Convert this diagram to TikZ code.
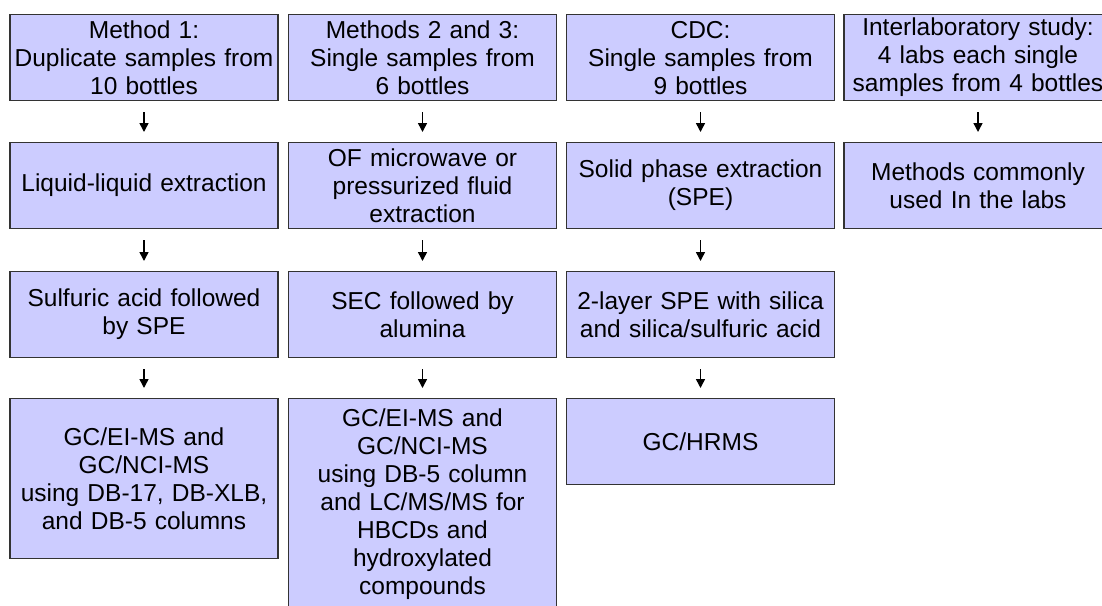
\documentclass[tikz,border=0pt]{standalone}
\usepackage{fontspec}
\setmainfont{Liberation Sans}
\usetikzlibrary{positioning,arrows.meta}
\definecolor{boxfill}{RGB}{204,204,255}

\begin{document}
\begin{tikzpicture}[x=1pt,y=-1pt,
                       proc node/.style={rectangle,fill=boxfill,draw=black!80,line width=1.2pt,
                                         anchor=north,minimum width=268pt,text width=268pt,
                                         align=center,inner sep=0pt,minimum height=86pt,
                                         font=\fontsize{24.5}{28}\selectfont},
                       flow/.style={line width=1.5pt,-{Triangle[length=9pt,width=9pt]},
                                    shorten <=11pt,shorten >=10pt}
                           ]
   \useasboundingbox (0,0) rectangle (1102,605);
   % Method 1
   \node[proc node] (m1a) at (144,14) {Method 1:\\Duplicate samples from\\10 bottles};
   \node[proc node] (m1b) at (144,142) {Liquid-liquid extraction};
   \node[proc node] (m1c) at (144,271) {Sulfuric acid followed\\by SPE};
   \node[proc node,minimum height=160pt] (m1d) at (144,398) {GC/EI-MS and\\GC/NCI-MS\\using DB-17, DB-XLB,\\and DB-5 columns};
   % Methods 2 and 3
   \node[proc node] (m2a) at (422.5,14) {Methods 2 and 3:\\Single samples from\\6 bottles};
   \node[proc node] (m2b) at (422.5,142) {OF microwave or\\pressurized fluid\\extraction};
   \node[proc node] (m2c) at (422.5,271) {SEC followed by\\alumina};
   \node[proc node,minimum height=0pt,inner ysep=10pt] (m2d) at (422.5,398) {GC/EI-MS and\\GC/NCI-MS\\using DB-5 column\\and LC/MS/MS for\\HBCDs and\\hydroxylated\\compounds};
   % CDC
   \node[proc node] (cdca) at (700.5,14) {CDC:\\Single samples from\\9 bottles};
   \node[proc node] (cdcb) at (700.5,142) {Solid phase extraction\\(SPE)};
   \node[proc node] (cdcc) at (700.5,271) {2-layer SPE with silica\\and silica/sulfuric acid};
   \node[proc node] (cdcd) at (700.5,398) {GC/HRMS};
   % Interlaboratory study
   \node[proc node] (ila) at (978,14) {Interlaboratory study:\\4 labs each single\\samples from 4 bottles};
   \node[proc node] (ilb) at (978,142) {Methods commonly\\used In the labs};
      \path%
    (m1a) edge [flow] (m1b)
    (m1b) edge [flow] (m1c)
    (m1c) edge [flow] (m1d)
    (m2a) edge [flow] (m2b)
    (m2b) edge [flow] (m2c)
    (m2c) edge [flow] (m2d)
    (cdca) edge [flow] (cdcb)
    (cdcb) edge [flow] (cdcc)
    (cdcc) edge [flow] (cdcd)
    (ila) edge [flow] (ilb);
      \end{tikzpicture}
\end{document}
